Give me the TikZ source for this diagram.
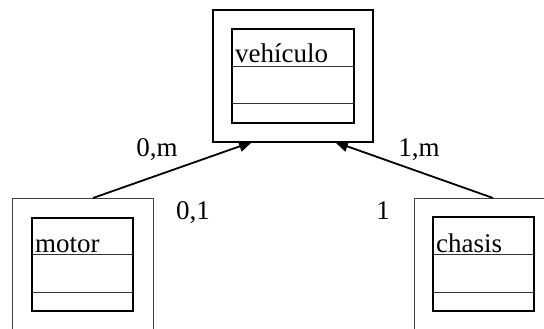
\documentclass[tikz,border=0pt]{standalone}
\usepackage{fontspec}
\setmainfont{Liberation Serif}
\usetikzlibrary{arrows.meta}
\begin{document}
\begin{tikzpicture}[x=1pt,y=-1pt,
  outerbox/.style={draw=black!75,line width=1pt,inner sep=0pt},
  vbox/.style={draw=black,line width=2pt,inner sep=0pt},
  innerbox/.style={draw=black,line width=1.6pt,inner sep=0pt},
  divider/.style={draw=black!80,line width=1pt},
  lbl/.style={font=\fontsize{27}{31}\selectfont,inner sep=0pt},
  assoc/.style={draw=black,line width=1.8pt,-{Triangle[length=13pt,width=11pt]}}]
\useasboundingbox (0,0) rectangle (544,329);
\clip (0,0) rectangle (544,329);
% vehiculo
\node[vbox,minimum width=160pt,minimum height=132pt] (vout) at (293,76) {};
\node[innerbox,minimum width=122pt,minimum height=94pt] (vin) at (293,76) {};
\draw[divider] (232,67) -- (354,67) (232,104) -- (354,104);
\node[lbl,anchor=base west] (vt) at (235,63) {vehículo};
% motor
\node[outerbox,minimum width=141pt,minimum height=170pt] (mout) at (82.5,283) {};
\node[innerbox,line width=1.3pt,minimum width=101pt,minimum height=93pt] (min) at (82.5,264.5) {};
\draw[divider] (32,254) -- (133,254) (32,292) -- (133,292);
\node[lbl,anchor=base west] (mt) at (35,252) {motor};
% chasis
\node[outerbox,minimum width=200pt,minimum height=170pt] (cout) at (514,283) {};
\node[innerbox,line width=1.3pt,minimum width=101pt,minimum height=94pt] (cin) at (483.5,264) {};
\draw[divider] (433,254) -- (534,254) (433,292) -- (534,292);
\node[lbl,anchor=base west] (ct) at (436,252) {chasis};
% associations
\coordinate (ms) at (93,198);
\coordinate (cs) at (493,198);
\coordinate (vm) at (252,142);
\coordinate (vc) at (335,142);
\draw[assoc] (ms) -- (vm);
\draw[assoc] (cs) -- (vc);
\node[lbl,anchor=base] (l1) at (157,157) {0,m};
\node[lbl,anchor=base] (l2) at (419,157) {1,m};
\node[lbl,anchor=base] (l3) at (193,219) {0,1};
\node[lbl,anchor=base] (l4) at (383,219) {1};
\end{tikzpicture}
\end{document}
